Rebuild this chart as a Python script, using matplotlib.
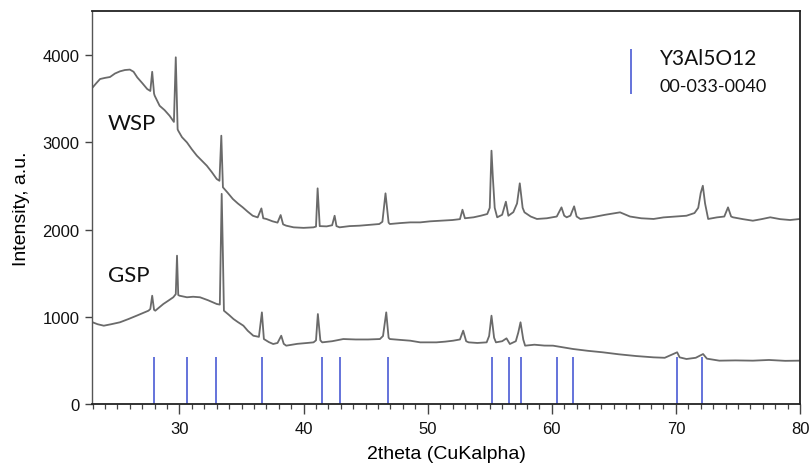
import matplotlib
matplotlib.use("Agg")
import matplotlib.pyplot as plt
from matplotlib.ticker import MultipleLocator
from matplotlib import font_manager

# ---- data ----
wsp_x = [23.0, 23.3, 23.6, 24.0, 24.4, 24.8, 25.2, 25.6, 26.0, 26.3, 26.6, 27.0, 27.4, 27.65, 27.8, 27.95,
         28.0, 28.4, 28.8, 29.2, 29.55, 29.7, 29.85, 29.9, 30.2, 30.6, 31.0, 31.4, 31.8, 32.2, 32.6, 33.0,
         33.22, 33.37, 33.5, 33.9, 34.3, 34.7, 35.1, 35.5, 35.9, 36.3, 36.6, 36.75, 37.0, 37.5, 37.9, 38.15,
         38.35, 38.6, 39.2, 40.0, 40.8, 41.0, 41.13, 41.3, 41.86, 42.3, 42.5, 42.65, 42.9, 43.7, 44.5, 45.3,
         46.1, 46.35, 46.6, 46.85, 46.95, 47.8, 48.6, 49.4, 50.2, 51.0, 52.0, 52.6, 52.8, 53.0, 53.7, 54.3,
         54.8, 55.0, 55.14, 55.25, 55.4, 55.6, 56.0, 56.3, 56.5, 56.9, 57.2, 57.42, 57.65, 57.8, 58.3, 58.8,
         59.6, 60.4, 60.78, 61.0, 61.2, 61.5, 61.8, 62.0, 62.3, 63.2, 64.3, 65.5, 66.3, 67.2, 68.2, 69.0,
         70.0, 70.85, 71.5, 71.8, 72.0, 72.17, 72.35, 72.6, 73.3, 73.9, 74.2, 74.45, 74.6, 75.4, 76.2, 76.9,
         77.6, 78.4, 79.2, 80.0]
wsp_y = [3630, 3680, 3727, 3740, 3750, 3790, 3815, 3830, 3835, 3810, 3745, 3680, 3612, 3590, 3810, 3560,
         3536, 3420, 3370, 3306, 3235, 3976, 3150, 3134, 3060, 3000, 2920, 2848, 2790, 2733, 2660, 2580,
         2560, 3077, 2485, 2420, 2351, 2300, 2255, 2205, 2159, 2140, 2243, 2130, 2122, 2095, 2080, 2167,
         2060, 2045, 2026, 2020, 2026, 2035, 2473, 2040, 2037, 2050, 2159, 2040, 2026, 2040, 2045, 2055,
         2064, 2090, 2416, 2080, 2064, 2075, 2083, 2083, 2095, 2102, 2110, 2120, 2228, 2130, 2141, 2160,
         2179, 2250, 2905, 2600, 2250, 2141, 2170, 2320, 2159, 2200, 2300, 2531, 2250, 2198, 2150, 2122,
         2130, 2150, 2255, 2160, 2141, 2160, 2267, 2150, 2122, 2140, 2170, 2198, 2150, 2130, 2122, 2140,
         2150, 2159, 2190, 2250, 2420, 2503, 2300, 2122, 2140, 2150, 2255, 2150, 2141, 2120, 2102, 2120,
         2141, 2120, 2110, 2122]

gsp_x = [23.0, 23.4, 23.9, 24.5, 25.2, 25.9, 26.55, 27.0, 27.5, 27.65, 27.8, 27.95, 28.05, 28.7, 29.1, 29.5,
         29.7, 29.8, 29.9, 30.0, 30.6, 31.1, 31.65, 32.3, 33.0, 33.25, 33.4, 33.5, 33.58, 34.0, 34.35, 34.7,
         35.15, 35.5, 35.95, 36.4, 36.64, 36.8, 37.2, 37.55, 37.9, 38.2, 38.4, 38.6, 39.5, 40.3, 40.8, 41.0,
         41.15, 41.35, 41.5, 42.3, 43.2, 44.2, 45.2, 46.15, 46.4, 46.66, 46.85, 46.95, 47.8, 48.6, 49.4, 50.7,
         51.4, 52.05, 52.6, 52.86, 53.1, 53.3, 54.0, 54.75, 54.95, 55.14, 55.35, 55.5, 56.0, 56.35, 56.62, 57.1,
         57.3, 57.48, 57.7, 57.85, 58.6, 59.4, 60.1, 60.9, 61.7, 62.9, 64.1, 65.4, 66.8, 68.2, 69.1, 70.1,
         70.3, 70.85, 71.6, 72.19, 72.5, 73.5, 74.8, 76.2, 77.5, 78.8, 80.0]
gsp_y = [937, 915, 898, 915, 937, 975, 1013, 1040, 1070, 1090, 1242, 1080, 1070, 1147, 1185, 1224,
         1260, 1701, 1250, 1242, 1224, 1230, 1224, 1190, 1147, 1140, 2410, 1700, 1070, 1020, 975, 940,
         898, 840, 783, 770, 1051, 745, 710, 688, 700, 783, 690, 669, 690, 700, 707, 730,
         1032, 730, 707, 720, 745, 740, 740, 745, 780, 1051, 760, 745, 735, 726, 707, 707,
         715, 726, 740, 841, 720, 707, 700, 707, 780, 1013, 760, 707, 720, 753, 688, 720,
         820, 937, 740, 669, 680, 670, 669, 650, 631, 610, 593, 570, 550, 535, 530, 593,
         535, 516, 530, 573, 520, 497, 500, 497, 505, 495, 497]

ref_positions = [27.95, 30.63, 32.98, 36.68, 41.47, 42.9, 46.8, 55.2, 56.55, 57.52, 60.44, 61.7, 70.08, 72.08]
ref_height = 540

ref_name = "Y3Al5O12"
ref_code = "00-033-0040"
xlabel = "2theta (CuKalpha)"
ylabel = "Intensity, a.u."

trace_color = "#6a6a6a"
ref_color = "#4a5bd4"

installed = {f.name for f in font_manager.fontManager.ttflist}
tick_family = ["Liberation Sans Narrow", "Liberation Sans", "DejaVu Sans"]
tick_family = [f for f in tick_family if f in installed] or ["DejaVu Sans"]
label_family = [f for f in ["Liberation Sans", "DejaVu Sans"] if f in installed] or ["DejaVu Sans"]
ann_font = [f for f in ["Lato", "DejaVu Sans"] if f in installed] or ["DejaVu Sans"]
narrow = tick_family[0] == "Liberation Sans Narrow"

fig = plt.figure(figsize=(8.11, 4.64), dpi=100)
ax = fig.add_axes([92 / 811, 59 / 464, 708 / 811, 393 / 464])

ax.plot(wsp_x, wsp_y, color=trace_color, lw=1.3)
ax.plot(gsp_x, gsp_y, color=trace_color, lw=1.3)
ax.vlines(ref_positions, 0, ref_height, color=ref_color, lw=1.2)

ax.set_xlim(22.95, 80)
ax.set_ylim(0, 4507)
ax.xaxis.set_major_locator(MultipleLocator(10))
ax.xaxis.set_minor_locator(MultipleLocator(1))
ax.yaxis.set_major_locator(MultipleLocator(1000))

ax.tick_params(axis="x", which="major", direction="out", length=7, width=1.0,
               color="#444444", labelcolor="#111111", pad=5)
ax.tick_params(axis="y", which="major", direction="out", length=5, width=1.0,
               color="#444444", labelcolor="#111111", pad=4)
ax.tick_params(axis="x", which="minor", direction="out", length=3.5, width=0.9, color="#444444")
tsize = 13.5 if narrow else 12
for lab in ax.get_xticklabels() + ax.get_yticklabels():
    lab.set_fontfamily(tick_family)
    lab.set_fontsize(tsize)

for side in ["left", "right", "top", "bottom"]:
    ax.spines[side].set_color("#222222")
    ax.spines[side].set_linewidth(1.3)
ax.spines["left"].set_color("#555555")
ax.spines["left"].set_linewidth(1.0)

ax.set_xlabel(xlabel, fontsize=14, family=label_family, labelpad=7)
ax.set_ylabel(ylabel, fontsize=14, family=label_family, labelpad=9)

ax.text(24.24, 3228, "WSP", fontsize=16, family=ann_font, va="center", ha="left", color="#111111")
ax.text(24.24, 1474, "GSP", fontsize=16, family=ann_font, va="center", ha="left", color="#111111")

ax.vlines([66.36], 3555, 4071, color=ref_color, lw=1.2)
ax.text(68.7, 3968, ref_name, fontsize=15, family=ann_font, va="center", ha="left", color="#111111")
ax.text(68.7, 3647, ref_code, fontsize=13, family=ann_font, va="center", ha="left", color="#111111")

fig.savefig("out.png", dpi=100)
